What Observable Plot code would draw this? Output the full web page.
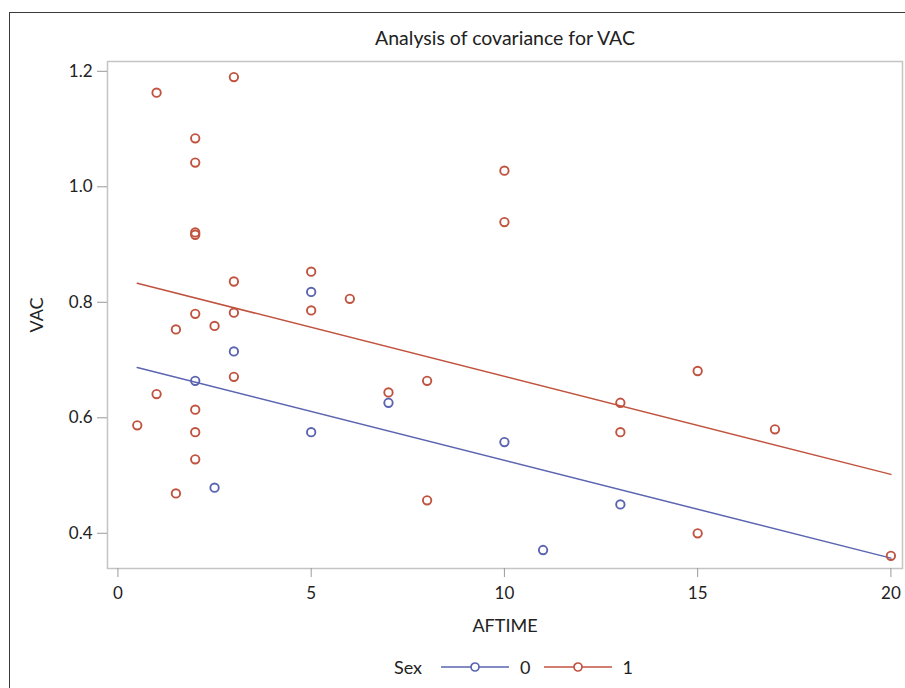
<!DOCTYPE html>
<html>
<head>
<meta charset="utf-8">
<script src="https://cdn.jsdelivr.net/npm/d3@7"></script>
<script src="https://cdn.jsdelivr.net/npm/@observablehq/plot@0.6"></script>
<style>
  html, body { margin: 0; padding: 0; background: #fff; }
  body { width: 905px; height: 688px; overflow: hidden; position: relative; font-family: Lato, "Open Sans", sans-serif; color: #222; }
  #outer { position: absolute; left: 9px; top: 12px; width: 1000px; height: 1000px; border-left: 1.5px solid #3a3a3a; border-top: 1.5px solid #3a3a3a; box-sizing: border-box; }
  #chart { position: absolute; left: 0; top: 0; }
  #chart svg text { font-size: 17px; }
  .lbl { position: absolute; white-space: nowrap; }
  #title { left: 505px; top: 37px; transform: translate(-50%, -50%); font-size: 19.5px; }
  #xlabel { left: 505px; top: 625px; transform: translate(-50%, -50%); font-size: 18px; }
  #ylabel { left: 36px; top: 315px; transform: translate(-50%, -50%) rotate(-90deg); font-size: 18px; }
  #legend { left: 394px; top: 667px; transform: translateY(-50%); font-size: 18px; display: flex; align-items: center; }
  #legend svg { display: block; }
</style>
</head>
<body>
<div id="outer"></div>
<div id="chart"></div>
<div class="lbl" id="title">Analysis of covariance for VAC</div>
<div class="lbl" id="xlabel">AFTIME</div>
<div class="lbl" id="ylabel">VAC</div>
<div class="lbl" id="legend"></div>
<script>
// Sex = 1 observations
const sex1X = [1, 3, 2, 2, 2, 2, 3, 5, 5, 6, 2, 3, 1.5, 2.5, 3, 1, 2, 0.5, 2, 2, 1.5, 7, 8, 8, 10, 10, 13, 13, 15, 15, 17, 20];
const sex1Y = [1.163, 1.190, 1.084, 1.042, 0.921, 0.917, 0.836, 0.853, 0.786, 0.806, 0.780, 0.782, 0.753, 0.759, 0.671, 0.641, 0.614, 0.587, 0.575, 0.528, 0.469, 0.644, 0.664, 0.457, 1.028, 0.939, 0.626, 0.575, 0.681, 0.400, 0.580, 0.361];
// Sex = 0 observations
const sex0X = [5, 3, 2, 7, 5, 10, 2.5, 13, 11];
const sex0Y = [0.818, 0.715, 0.664, 0.626, 0.575, 0.558, 0.479, 0.450, 0.371];
// Fitted ANCOVA lines
const fitX = [0.5, 20];
const fit1Y = [0.833, 0.502];
const fit0Y = [0.687, 0.357];
const xTicks = [0, 5, 10, 15, 20];
const yTicks = [0.4, 0.6, 0.8, 1.0, 1.2];
const sexLevels = ["0", "1"];
const sexColors = ["#5a64b1", "#c0533f"];

const points = [
  ...sex0X.map((x, i) => ({x, y: sex0Y[i], sex: "0"})),
  ...sex1X.map((x, i) => ({x, y: sex1Y[i], sex: "1"}))
];
const fits = [
  ...fitX.map((x, i) => ({x, y: fit0Y[i], sex: "0"})),
  ...fitX.map((x, i) => ({x, y: fit1Y[i], sex: "1"}))
];

const chart = Plot.plot({
  width: 905,
  height: 688,
  marginLeft: 107,
  marginRight: 3,
  marginTop: 61,
  marginBottom: 120,
  style: {fontFamily: "Lato, 'Open Sans', sans-serif", fontSize: "17px", color: "#222", background: "transparent"},
  x: {domain: [-0.27, 20.3]},
  y: {domain: [0.339, 1.217]},
  color: {domain: sexLevels, range: sexColors},
  marks: [
    Plot.frame({stroke: "#c4c4c4", strokeWidth: 1.5}),
    Plot.axisY({ticks: yTicks, tickFormat: d => d.toFixed(1), tickSize: 10, tickPadding: 5, label: null, stroke: "#9a9a9a", fill: "#222"}),
    Plot.axisX({ticks: xTicks, tickFormat: d => String(d), tickSize: 9, tickPadding: 9, label: null, stroke: "#9a9a9a", fill: "#222"}),
    Plot.line(fits, {x: "x", y: "y", z: "sex", stroke: "sex", strokeWidth: 1.5}),
    Plot.dot(points, {x: "x", y: "y", stroke: "sex", r: 4.2, strokeWidth: 1.9, fill: "none"})
  ]
});
document.getElementById("chart").appendChild(chart);

// Legend
const legend = document.getElementById("legend");
const sexLab = document.createElement("span");
sexLab.textContent = "Sex";
sexLab.style.marginRight = "19px";
legend.appendChild(sexLab);
sexLevels.forEach((lev, i) => {
  const ns = "http://www.w3.org/2000/svg";
  const svg = document.createElementNS(ns, "svg");
  svg.setAttribute("width", 68);
  svg.setAttribute("height", 12);
  const ln = document.createElementNS(ns, "line");
  ln.setAttribute("x1", 0); ln.setAttribute("x2", 68);
  ln.setAttribute("y1", 6); ln.setAttribute("y2", 6);
  ln.setAttribute("stroke", sexColors[i]); ln.setAttribute("stroke-width", 1.5);
  const c = document.createElementNS(ns, "circle");
  c.setAttribute("cx", 34); c.setAttribute("cy", 6); c.setAttribute("r", 4);
  c.setAttribute("fill", "white"); c.setAttribute("stroke", sexColors[i]); c.setAttribute("stroke-width", 1.7);
  svg.appendChild(ln); svg.appendChild(c);
  legend.appendChild(svg);
  const t = document.createElement("span");
  t.textContent = lev;
  t.style.marginLeft = "11px";
  t.style.marginRight = i === 0 ? "13px" : "0";
  legend.appendChild(t);
});
</script>
</body>
</html>
